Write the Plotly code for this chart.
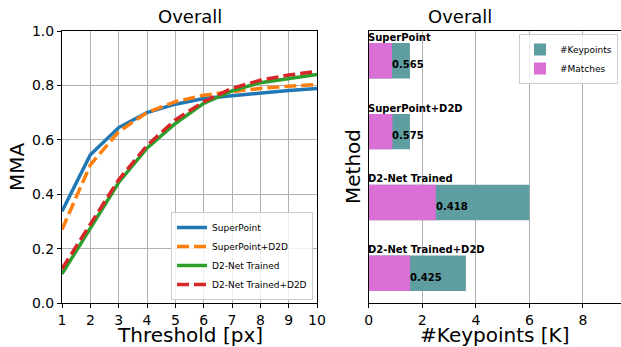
import plotly.graph_objects as go

thresholds = [1, 2, 3, 4, 5, 6, 7, 8, 9, 10]
mma_superpoint = [0.337, 0.545, 0.645, 0.70, 0.731, 0.752, 0.762, 0.773, 0.781, 0.789]
mma_superpoint_d2d = [0.27, 0.508, 0.63, 0.70, 0.74, 0.764, 0.777, 0.789, 0.797, 0.803]
mma_d2net = [0.107, 0.278, 0.443, 0.569, 0.66, 0.734, 0.78, 0.81, 0.825, 0.84]
mma_d2net_d2d = [0.126, 0.29, 0.453, 0.579, 0.673, 0.74, 0.789, 0.819, 0.838, 0.852]

methods = ["SuperPoint", "SuperPoint+D2D", "D2-Net Trained", "D2-Net Trained+D2D"]
keypoints_k = [1.54, 1.54, 6.0, 3.63]
match_ratio = [0.565, 0.575, 0.418, 0.425]
matches_k = [k * r for k, r in zip(keypoints_k, match_ratio)]

FONT = "DejaVu Sans"
W, H = 621, 347
ML, MR, MT, MB = 62, 0, 31, 44
PW = W - ML - MR
PH = H - MT - MB

def px_x(p):
    return (p - ML) / PW

def px_y(p):
    return 1 - (p - MT) / PH

fig = go.Figure()

line_series = [
    ("SuperPoint", mma_superpoint, "#1f77b4", "solid"),
    ("SuperPoint+D2D", mma_superpoint_d2d, "#ff7f0e", "12px,5px"),
    ("D2-Net Trained", mma_d2net, "#2ca02c", "solid"),
    ("D2-Net Trained+D2D", mma_d2net_d2d, "#d62728", "12px,5px"),
]
for name, ys, color, dash in line_series:
    fig.add_trace(go.Scatter(
        x=thresholds, y=ys, mode="lines", name=name,
        line=dict(color=color, width=3.5, dash=dash),
        xaxis="x", yaxis="y", legend="legend",
    ))

fig.add_trace(go.Bar(
    y=methods, x=keypoints_k, orientation="h", name="#Keypoints",
    marker=dict(color="#5f9ea0", line=dict(width=0)), width=0.5,
    xaxis="x2", yaxis="y2", legend="legend2",
))
fig.add_trace(go.Bar(
    y=methods, x=matches_k, orientation="h", name="#Matches",
    marker=dict(color="#da70d6", line=dict(width=0)), width=0.5,
    xaxis="x2", yaxis="y2", legend="legend2",
))

for m, mk, r in zip(methods, matches_k, match_ratio):
    fig.add_annotation(
        x=0, y=m, xref="x2", yref="y2", text="<b>%s</b>" % m,
        showarrow=False, xanchor="left", yanchor="bottom", yshift=16, xshift=-3,
        font=dict(family=FONT, size=10, color="black"),
    )
    fig.add_annotation(
        x=mk, y=m, xref="x2", yref="y2", text="<b>%.3f</b>" % r,
        showarrow=False, xanchor="left", yanchor="middle", yshift=-4, xshift=-2,
        font=dict(family=FONT, size=10, color="black"),
    )

axis_common = dict(
    showline=True, linecolor="black", linewidth=1, mirror=True,
    ticks="outside", ticklen=4, tickcolor="black",
    tickfont=dict(family=FONT, size=14, color="black"),
    gridcolor="#b0b0b0", gridwidth=1, zeroline=False, automargin=False,
)

title_font = dict(family=FONT, size=20, color="black")
label_annotations = [
    dict(text="Overall", x=px_x((62 + 317) / 2), y=px_y(17), xref="paper", yref="paper",
         showarrow=False, font=dict(family=FONT, size=18, color="black"),
         xanchor="center", yanchor="middle"),
    dict(text="Overall", x=px_x(460), y=px_y(17), xref="paper", yref="paper",
         showarrow=False, font=dict(family=FONT, size=18, color="black"),
         xanchor="center", yanchor="middle"),
    dict(text="Threshold [px]", x=px_x((62 + 317) / 2), y=px_y(347), xref="paper", yref="paper",
         showarrow=False, font=title_font, xanchor="center", yanchor="bottom",
         borderpad=0, yshift=-1),
    dict(text="#Keypoints [K]", x=px_x(495), y=px_y(347), xref="paper", yref="paper",
         showarrow=False, font=title_font, xanchor="center", yanchor="bottom",
         borderpad=0, yshift=-1),
    dict(text="MMA", x=px_x(17), y=px_y(167), xref="paper", yref="paper", textangle=-90,
         showarrow=False, font=title_font, xanchor="center", yanchor="middle"),
    dict(text="Method", x=px_x(353), y=px_y(167), xref="paper", yref="paper", textangle=-90,
         showarrow=False, font=title_font, xanchor="center", yanchor="middle"),
]

fig.update_layout(
    width=W, height=H,
    margin=dict(l=ML, r=MR, t=MT, b=MB, autoexpand=False),
    paper_bgcolor="white", plot_bgcolor="white",
    barmode="overlay",
    font=dict(family=FONT, color="black"),
    xaxis=dict(domain=[0, px_x(317)], range=[1, 10], tickvals=thresholds,
               anchor="y", showgrid=True, **axis_common),
    yaxis=dict(domain=[0, 1], range=[0, 1], tickvals=[0, 0.2, 0.4, 0.6, 0.8, 1.0],
               tickformat=".1f", anchor="x", showgrid=True, **axis_common),
    xaxis2=dict(domain=[px_x(368.7), 1.0], range=[0, 9.42], tickvals=[0, 2, 4, 6, 8],
                anchor="y2", showgrid=True, **axis_common),
    yaxis2=dict(domain=[0, 1], type="category", range=[3.42, -0.42],
                anchor="x2", showgrid=False, showticklabels=False,
                showline=True, linecolor="black", linewidth=1, mirror=True,
                ticks="", automargin=False),
    legend=dict(x=px_x(313), y=px_y(300), xanchor="right", yanchor="bottom",
                bgcolor="rgba(255,255,255,0.8)", bordercolor="#cccccc", borderwidth=1,
                font=dict(family=FONT, size=9), tracegroupgap=0),
    legend2=dict(x=px_x(618), y=px_y(34), xanchor="right", yanchor="top",
                 bgcolor="rgba(255,255,255,0.8)", bordercolor="#cccccc", borderwidth=1,
                 font=dict(family=FONT, size=9), traceorder="normal"),
    annotations=list(fig.layout.annotations) + label_annotations,
)

fig.write_html(
    "out.html",
    config={"displayModeBar": False},
    post_script="document.body.style.margin='0';document.body.style.overflow='hidden';",
)
